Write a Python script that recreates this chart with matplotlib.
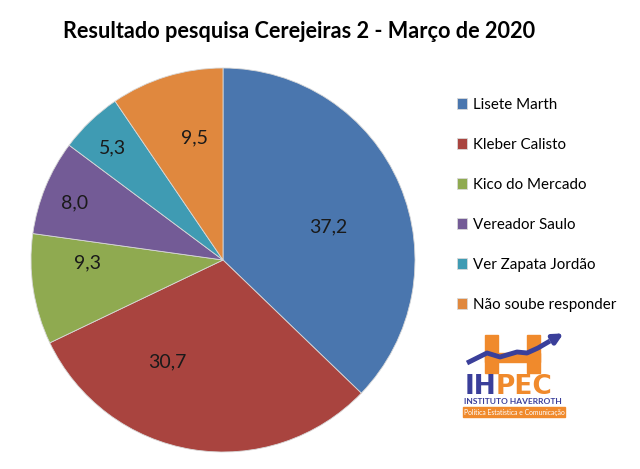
import matplotlib
matplotlib.use('Agg')
import matplotlib.pyplot as plt
from matplotlib.patches import Rectangle, FancyArrowPatch

plt.rcParams['font.family'] = ['Lato', 'DejaVu Sans']

# dados da pesquisa
candidates = ['Lisete Marth', 'Kleber Calisto', 'Kico do Mercado',
              'Vereador Saulo', 'Ver Zapata Jordão', 'Não soube responder']
votes = [37.2, 30.7, 9.3, 8.0, 5.3, 9.5]
colors = ['#4A76AE', '#A9443F', '#8FAA50', '#735B96', '#3F9BB3', '#E0883E']
title = 'Resultado pesquisa Cerejeiras 2 - Março de 2020'

# where the value labels sit inside the pie (units of radius)
label_pos = [(0.547, 0.172), (-0.292, -0.531), (-0.708, -0.016),
             (-0.771, 0.297), (-0.573, 0.583), (-0.146, 0.635)]

W, H = 640, 469
fig = plt.figure(figsize=(6.4, 4.69), dpi=100)

# pie axes: centre (223, 260), radius 192 px
cx, cy, r = 223, 260, 192
ax = fig.add_axes([(cx - r) / W, (H - cy - r) / H, 2 * r / W, 2 * r / H])
wedges, texts, autotexts = ax.pie(
    votes, colors=colors, startangle=90, counterclock=False,
    autopct=lambda p: f'{p:.1f}'.replace('.', ','),
    wedgeprops=dict(linewidth=0.6, edgecolor='#d8d8d8'),
    textprops=dict(fontsize=14, color='#1a1a1a'))
for t, pos in zip(autotexts, label_pos):
    t.set_position(pos)
ax.set_aspect('equal')
ax.set_xlim(-1, 1)
ax.set_ylim(-1, 1)

fig.text(299 / W, 1 - 32 / H, title, ha='center', va='center',
         fontsize=15.6, fontweight='bold', color='black')

leg = fig.legend(wedges, candidates, loc='upper left',
                 bbox_to_anchor=(449 / W, 1 - 90 / H), frameon=False,
                 fontsize=10.9, handlelength=0.7, handleheight=0.7,
                 handletextpad=0.4, labelspacing=1.72, borderpad=0)

# logo IHPEC
lg = fig.add_axes([0, 0, 1, 1], zorder=5)
lg.set_xlim(0, W)
lg.set_ylim(H, 0)
lg.axis('off')
orange = '#F08A2C'
blue = '#3A3F9A'
lg.add_patch(Rectangle((485, 335), 13, 38, color=orange))
lg.add_patch(Rectangle((527, 335), 13, 38, color=orange))
lg.add_patch(Rectangle((485, 353), 55, 9, color=orange))
arrow_x = [467, 487, 500, 517, 527, 538, 550]
arrow_y = [363, 353, 357, 352, 353, 348, 341]
lg.plot(arrow_x, arrow_y, color=blue, lw=3.5, solid_capstyle='butt')
lg.add_patch(FancyArrowPatch((550, 341), (566, 332), arrowstyle='-|>',
                             mutation_scale=14, color=blue, lw=3.5))
ih = lg.text(465, 394, 'IH', color=blue, fontsize=19, fontweight='bold',
             ha='left', va='baseline', family='DejaVu Sans')
fig.canvas.draw()
bb = ih.get_window_extent(fig.canvas.get_renderer())
lg.text(bb.x1 * W / fig.bbox.width - 1, 394, 'PEC', color=orange,
        fontsize=19, fontweight='bold', ha='left', va='baseline',
        family='DejaVu Sans')
lg.text(513, 402, 'INSTITUTO HAVERROTH', color=blue, fontsize=6.0,
        ha='center', va='center', fontweight='bold')
lg.add_patch(Rectangle((463, 407), 102, 10, color=orange))
lg.text(514, 412, 'Política Estatística e Comunicação', color='white',
        fontsize=4.9, ha='center', va='center')

fig.savefig('out.png', dpi=100)
